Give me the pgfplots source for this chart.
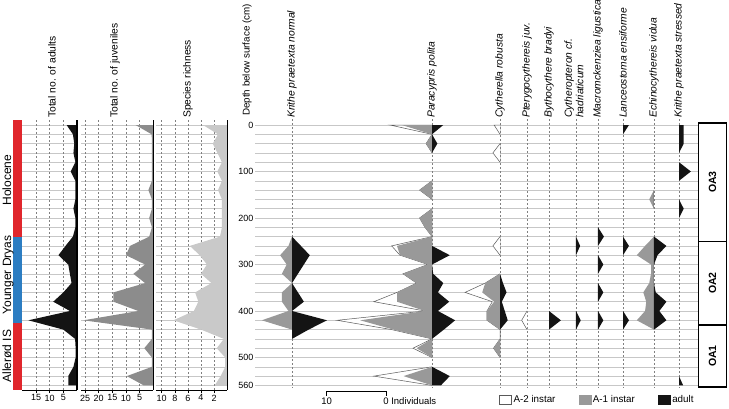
\documentclass[border=0pt]{standalone}
\usepackage{fontspec}
\setmainfont{Liberation Sans}
\usepackage{pgfplots}
\usepackage{pgfplotstable}
\pgfplotsset{compat=1.18}

\definecolor{gridc}{gray}{0.78}
\definecolor{dashc}{gray}{0.5}
\definecolor{adultc}{gray}{0.08}
\definecolor{juvc}{gray}{0.55}
\definecolor{richc}{gray}{0.79}
\definecolor{aonec}{gray}{0.6}
\definecolor{outl}{gray}{0.35}
\definecolor{holored}{HTML}{E0262C}
\definecolor{ydblue}{HTML}{2C7DC2}

% depth (cm), total adults, total juveniles, species richness
\pgfplotstableread{
d adults juv rich
0 0 0 0
0 3.8 6.5 3.7
20 1.5 0.6 1.4
40 1.0 0.5 2.2
60 1.3 0.5 1.5
80 0.6 0.5 0.8
100 2.3 0.5 1.5
120 0.6 0.5 0.8
140 0.6 1.8 1.4
160 0.6 0.5 0.8
180 1.3 0.5 0.8
200 0.6 1.5 0.8
220 0.6 0.5 0.8
240 1.5 1.5 1.1
260 4.2 8.5 5.7
280 6.8 10.0 4.2
300 3.2 3.0 3.1
320 2.6 7.3 4.0
340 2.0 3.0 2.4
360 5.0 14.6 4.9
380 8.7 14.6 4.4
400 2.6 5.5 5.1
420 17.8 25.6 8.2
440 5.0 0.5 4.0
460 0.7 0.5 0.5
480 0.5 3.3 1.6
500 0.5 0.5 0.3
520 1.3 0.5 0.3
540 3.2 9.7 1.0
560 3.2 3.5 1.9
560 0 0 0
}\totals

% species counts: a2 = A-2 instar, a1 = A-1 instar, ad = adults
\pgfplotstableread{
d a2 a1 ad
240 0 0 0
260 0 0.6 1.5
280 0 2.0 3.0
300 0 0.9 2.0
320 0 1.7 1.0
340 0 0 0
360 0 1.7 1.0
380 0 1.7 2.0
400 0 0.6 0
420 0 5.1 5.9
440 0 0 2.8
460 0 0 0
}\kritheN

\pgfplotstableread{
d a2 a1 ad
0 0 0 0
0 2.0 5.1 1.9
20 0 0 0
30 nan nan nan
20 0 0 0
40 0 1.0 0.9
60 0 0 0
90 nan nan nan
120 0 0 0
140 0 2.1 0
160 0 0 0
170 nan nan nan
180 0 0 0
200 0 2.1 0
220 0 1.2 0
240 0 0 0
260 0.9 5.9 0
280 0 5.4 3.0
300 0 0.7 0
320 0 4.9 0.2
340 0 2.6 1.9
360 0 5.9 1.0
380 3.9 5.9 2.9
400 0 1.2 1.0
420 3.9 12.1 3.9
440 0.3 6.5 2.0
460 0 0 0
480 0.6 2.6 0
500 0 0 0
510 nan nan nan
520 0 0 0
540 5.0 4.8 3.0
560 0 0 1.5
560 0 0 0
}\paracypris

\pgfplotstableread{
d a2 a1 ad
0 0 0 0
0 1.0 0 0
20 0 0 0
30 nan nan nan
40 0 0 0
60 1.2 0 0
80 0 0 0
90 nan nan nan
240 0 0 0
260 1.2 0 0
280 0 0 0
300 nan nan nan
320 0 0 0
340 0 2.5 0.5
360 2.9 3.0 1.1
380 0.3 1.0 0.3
400 0 2.2 0.8
420 0 2.2 1.3
440 0 0 0
460 0 0 0
480 0 1.1 0
500 0 0 0
}\cytherella

\pgfplotstableread{
d a2 a1 ad
400 0 0 0
420 0.9 0 0
440 0 0 0
}\pterygo

\pgfplotstableread{
d a2 a1 ad
400 0 0 0
420 0 0 2.0
440 0 0 0
}\bythocythere

\pgfplotstableread{
d a2 a1 ad
240 0 0 0
260 0 0 0.7
280 0 0 0
300 nan nan nan
400 0 0 0
420 0 0 0.8
440 0 0 0
}\cytheropteron

\pgfplotstableread{
d a2 a1 ad
220 0 0 0
240 0 0 1.0
260 0 0 0
270 nan nan nan
280 0 0 0
300 0 0 0.9
320 0 0 0
330 nan nan nan
340 0 0 0
360 0 0 0.9
380 0 0 0
390 nan nan nan
400 0 0 0
420 0 0 0.9
440 0 0 0
}\macromck

\pgfplotstableread{
d a2 a1 ad
0 0 0 0
0 0 0 1.0
20 0 0 0
30 nan nan nan
240 0 0 0
260 0 0 1.0
280 0 0 0
300 nan nan nan
400 0 0 0
420 0 0 1.0
440 0 0 0
}\lanceostoma

\pgfplotstableread{
d a2 a1 ad
140 0 0 0
160 0 0.8 0
180 0 0 0
200 nan nan nan
240 0 0 0
260 0 1.5 2.1
280 0 2.9 0.6
300 0 0.5 0
320 0 0.5 0
340 0 0.8 0
360 0 1.8 0.3
380 0 1.3 2.1
400 0 1.5 0.9
420 0 2.9 2.1
440 0 0 0
}\echino

\pgfplotstableread{
d a2 a1 ad
0 0 0 0
0 0 0 0.8
20 0 0 0.8
40 0 0 0.8
60 0 0 0
70 nan nan nan
80 0 0 0
100 0 0 2.0
120 0 0 0
140 nan nan nan
160 0 0 0
180 0 0 0.8
200 0 0 0
300 nan nan nan
540 0 0 0
560 0 0 0.7
560 0 0 0
}\kritheS

\tikzset{vdash/.style={dashc, line width=0.5pt, dash pattern=on 2pt off 2pt}}

\pgfplotsset{
  strat/.style={scale only axis, height=269.7pt, ymin=-570, ymax=10,
    anchor=south west, clip=false, axis line style={draw=none},
    ytick={-560,-540,...,0}, y tick style={draw=none},
    ymajorgrids, grid style={gridc, line width=0.5pt},
    /pgf/number format/assume math mode=true},
  panel/.style={strat, yticklabels={}, x dir=reverse, xmin=0, xtick pos=left,
    tick align=outside, x tick style={black, line width=0.6pt},
    major tick length=3pt,
    xticklabel style={font=\fontsize{9}{10}\selectfont, inner sep=1.5pt}},
}

% one ostracod column: zero line at #1 (individuals), data table #2
\newcommand{\baseL}[1]{\draw[vdash] (axis cs:#1,12) -- (axis cs:#1,-566);}
\newcommand{\whiteL}[2]{\addplot[fill=white, draw=outl, line width=0.5pt]
  table[x expr={#1-\thisrow{a1}-\thisrow{a2}}, y expr={-\thisrow{d}}]{#2};}
\newcommand{\greyL}[2]{\addplot[fill=aonec, draw=none]
  table[x expr={#1-\thisrow{a1}}, y expr={-\thisrow{d}}]{#2};}
\newcommand{\blackL}[2]{\addplot[fill=adultc, draw=none]
  table[x expr={#1+\thisrow{ad}}, y expr={-\thisrow{d}}]{#2};}

\begin{document}
\begin{tikzpicture}
\path[use as bounding box] (0pt,0pt) rectangle (729pt,-409pt);

% ---- total adults
\begin{axis}[panel, at={(22.4pt,-390.05pt)}, width=54.6pt, xmax=20,
  xtick={5,10,15}, xticklabels={5,10,15}]
  \pgfplotsinvokeforeach{5,10,15}{\draw[vdash] (axis cs:#1,10) -- (axis cs:#1,-570);}
  \addplot[fill=adultc, draw=none] table[x=adults, y expr={-\thisrow{d}}] {\totals};
  \fill[holored] (axis cs:23.45,10) rectangle (axis cs:20.1,-240);
  \fill[ydblue] (axis cs:23.45,-240) rectangle (axis cs:20.1,-425);
  \fill[holored] (axis cs:23.45,-425) rectangle (axis cs:20.1,-570);
  \draw[black, line width=0.7pt] (axis cs:20.1,-570) -- (axis cs:0,-570);
  \draw[black, line width=1.2pt] (axis cs:0,10) -- (axis cs:0,-570);
\end{axis}

% ---- total juveniles
\begin{axis}[panel, at={(81.5pt,-390.05pt)}, width=71.8pt, xmax=26.3,
  xtick={5,10,15,20,25}, xticklabels={5,10,15,20,25}]
  \pgfplotsinvokeforeach{5,10,15,20,25}{\draw[vdash] (axis cs:#1,10) -- (axis cs:#1,-570);}
  \addplot[fill=juvc, draw=none] table[x=juv, y expr={-\thisrow{d}}] {\totals};
  \draw[black, line width=0.7pt] (axis cs:26.3,-570) -- (axis cs:0,-570);
  \draw[black, line width=1.2pt] (axis cs:0,10) -- (axis cs:0,-570);
\end{axis}

% ---- species richness
\begin{axis}[panel, at={(156.46pt,-390.05pt)}, width=70.74pt, xmax=10.8,
  xtick={2,4,6,8,10}, xticklabels={2,4,6,8,10}]
  \pgfplotsinvokeforeach{2,4,6,8,10}{\draw[vdash] (axis cs:#1,10) -- (axis cs:#1,-570);}
  \addplot[fill=richc, draw=none] table[x=rich, y expr={-\thisrow{d}}] {\totals};
  \draw[black, line width=0.7pt] (axis cs:10.8,-570) -- (axis cs:0,-570);
  \draw[black, line width=1.2pt] (axis cs:0,10) -- (axis cs:0,-570);
\end{axis}

% ---- ostracod species (x in individuals)
\begin{axis}[strat, at={(255pt,-390.05pt)}, width=443pt, xmin=0, xmax=74.705,
  xtick=\empty, unbounded coords=jump,
  yticklabels={560,,,500,,,,,400,,,,,300,,,,,200,,,,,100,,,,,0},
  yticklabel style={font=\fontsize{9}{10}\selectfont, inner sep=1.5pt},
  legend style={at={(0.5505,-0.035)}, anchor=west, draw=none, fill=none,
    inner sep=0pt, font=\fontsize{9.8}{11}\selectfont, legend columns=3,
    /tikz/every even column/.append style={column sep=21pt}},
  legend image code/.code={\draw[#1] (0pt,-4.5pt) rectangle (12pt,4.5pt);}]
  \addlegendimage{fill=white, draw=outl, line width=0.5pt}
  \addlegendentry{A-2 instar}
  \addlegendimage{fill=aonec, draw=aonec}
  \addlegendentry{A-1 instar}
  \addlegendimage{fill=adultc, draw=adultc}
  \addlegendentry{adult}

  \baseL{6.24}\baseL{29.85}\baseL{41.32}\baseL{45.87}\baseL{49.58}
  \baseL{54.13}\baseL{57.84}\baseL{62.06}\baseL{67.28}\baseL{71.50}

  % Krithe praetexta normal
  \greyL{6.24}{\kritheN}\blackL{6.24}{\kritheN}
  % Paracypris polita
  \whiteL{29.85}{\paracypris}\greyL{29.85}{\paracypris}\blackL{29.85}{\paracypris}
  % Cytherella robusta
  \whiteL{41.32}{\cytherella}\greyL{41.32}{\cytherella}\blackL{41.32}{\cytherella}
  % Pterygocythereis juv.
  \whiteL{45.87}{\pterygo}
  % Bythocythere bradyi
  \blackL{49.58}{\bythocythere}
  % Cytheropteron cf. hadriaticum
  \blackL{54.13}{\cytheropteron}
  % Macromckenziea ligustica
  \blackL{57.84}{\macromck}
  % Lanceostoma ensiforme
  \blackL{62.06}{\lanceostoma}
  % Echinocythereis vidua
  \greyL{67.28}{\echino}\blackL{67.28}{\echino}
  % Krithe praetexta stressed
  \blackL{71.50}{\kritheS}

  % scale bar
  \draw[black, line width=0.8pt] (axis cs:12.09,-582) -- (axis cs:12.09,-572)
    -- (axis cs:22.14,-572) -- (axis cs:22.14,-582);
  \node[font=\fontsize{9.5}{10}\selectfont] at (axis cs:12.09,-593) {10};
  \node[font=\fontsize{9.5}{10}\selectfont, anchor=west, inner sep=0pt]
    at (axis cs:21.62,-593) {0 Individuals};

  % ostracod assemblage zones
  \draw[black, line width=1.1pt] (axis cs:74.75,4.3) rectangle (axis cs:79.55,-563.4);
  \draw[black, line width=1.1pt] (axis cs:74.75,-250) -- (axis cs:79.55,-250);
  \draw[black, line width=1.1pt] (axis cs:74.75,-430) -- (axis cs:79.55,-430);
  \node[rotate=90, font=\bfseries\fontsize{10.5}{12}\selectfont] at (axis cs:77.15,-123) {OA3};
  \node[rotate=90, font=\bfseries\fontsize{10.5}{12}\selectfont] at (axis cs:77.15,-340) {OA2};
  \node[rotate=90, font=\bfseries\fontsize{10.5}{12}\selectfont] at (axis cs:77.15,-497) {OA1};
\end{axis}

% ---- column headings
\begin{scope}[every node/.style={rotate=90, anchor=west, inner sep=0pt,
    font=\fontsize{10.3}{11.5}\selectfont}]
  \node at (52pt,-118pt) {Total no. of adults};
  \node at (115pt,-118pt) {Total no. of juveniles};
  \node at (188pt,-118pt) {Species richness};
  \node[font=\fontsize{9.8}{11}\selectfont] at (247pt,-116pt) {Depth below surface (cm)};
  \node at (292pt,-118pt) {\itshape Krithe praetexta normal};
  \node at (432pt,-118pt) {\itshape Paracypris polita};
  \node at (500pt,-118pt) {\itshape Cytherella robusta};
  \node at (527pt,-118pt) {\itshape Pterygocythereis juv.};
  \node at (549pt,-118pt) {\itshape Bythocythere bradyi};
  \node[align=left] at (574pt,-118pt) {\itshape Cytheropteron cf.\\\itshape hadriaticum};
  \node at (598pt,-118pt) {\itshape Macromckenziea ligustica};
  \node at (623pt,-118pt) {\itshape Lanceostoma ensiforme};
  \node at (654pt,-118pt) {\itshape Echinocythereis vidua};
  \node at (679pt,-118pt) {\itshape Krithe praetexta stressed};
\end{scope}

% ---- climate intervals
\begin{scope}[every node/.style={rotate=90, anchor=base, inner sep=0pt,
    font=\fontsize{12}{14}\selectfont}]
  \node at (11pt,-180pt) {Holocene};
  \node at (11pt,-275pt) {Younger Dryas};
  \node at (11pt,-356pt) {Allerød IS};
\end{scope}
\end{tikzpicture}
\end{document}
